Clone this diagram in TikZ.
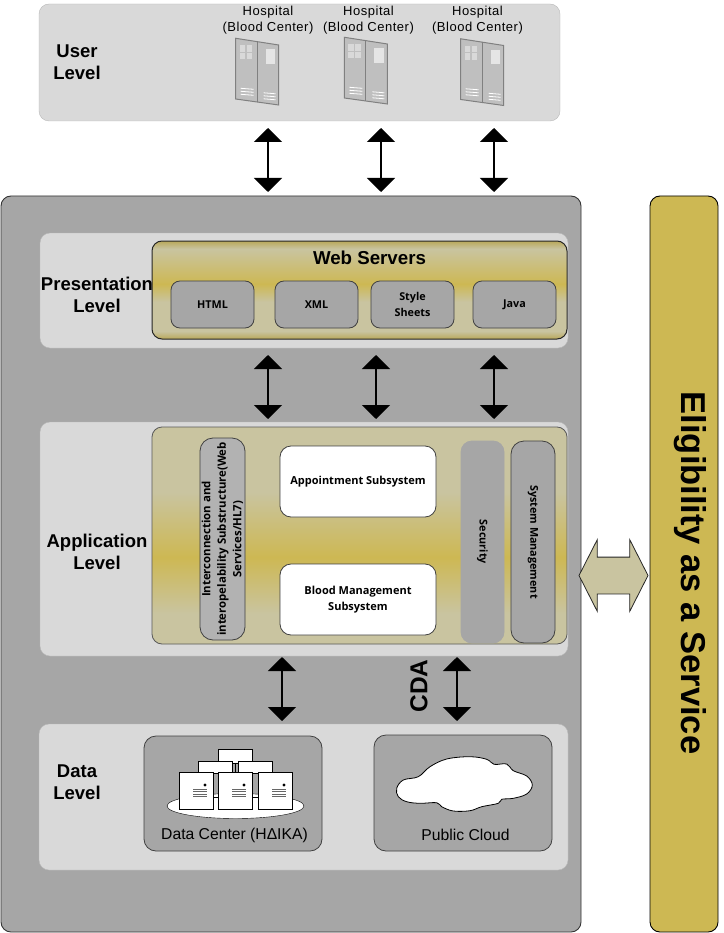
\documentclass[tikz,border=0pt]{standalone}
\usepackage{fontspec}
\setmainfont{Liberation Sans}
\newfontfamily\boxfont{Open Sans}
\usetikzlibrary{arrows.meta}
\usetikzlibrary{shapes.arrows}
\usetikzlibrary{shapes.geometric}
\definecolor{panelgrey}{HTML}{D9D9D9}
\definecolor{maingrey}{HTML}{A6A6A6}
\definecolor{gold}{HTML}{CDB853}
\definecolor{palegold}{HTML}{C9C4A0}
\definecolor{edgegold}{HTML}{B9A85A}
\pgfdeclareverticalshading{webgold}{100bp}{color(0bp)=(edgegold); color(25bp)=(edgegold); color(29bp)=(palegold); color(44bp)=(palegold); color(53bp)=(gold); color(71bp)=(palegold); color(75bp)=(edgegold); color(100bp)=(edgegold)}
\pgfdeclareverticalshading{appgold}{100bp}{color(0bp)=(palegold); color(32bp)=(palegold); color(45bp)=(gold); color(60bp)=(palegold); color(100bp)=(palegold)}
\tikzset{
    panel/.style={draw=panelgrey!85!black, fill=panelgrey, rounded corners=10pt, inner sep=0pt},
    subbox/.style={draw=black!75, line width=0.8pt, fill=maingrey, rounded corners=9pt, inner sep=0pt, align=center, font=\boxfont\fontsize{10.8}{15.5}\selectfont\bfseries},
    whitebox/.style={subbox, fill=white, rounded corners=11pt, font=\boxfont\fontsize{11}{16}\selectfont\bfseries},
    levellabel/.style={align=center, inner sep=0pt, font=\fontsize{18.5}{22.5}\selectfont\bfseries},
    hospitallabel/.style={align=center, inner sep=0pt, font=\addfontfeatures{LetterSpace=4}\fontsize{13}{16}\selectfont},
    dclabel/.style={inner sep=0pt, font=\fontsize{15.7}{18}\selectfont},
    dcbox/.style={draw=black, fill=white, inner sep=0pt, minimum width=34pt},
    bidir/.style={{Triangle[width=28pt,length=14pt]}-{Triangle[width=28pt,length=14pt]}, line width=1.8pt},
    hospitalrack/.pic={
        \draw[draw=black!50, line width=1pt, fill=black!25] (0,0) -- (43,6.7) -- (43,66.7) -- (0,60.7) -- cycle;
        \draw[draw=black!50, line width=1pt] (21.5,3.3) -- (21.5,63.7);
        \foreach \wx in {4,11} \foreach \wy in {7,14.5}
            \fill[white!85!black] (\wx,\wy) rectangle ++(5.5,6.5);
        \fill[white!90!black] (30,11) rectangle (39.5,25.5);
        \foreach \vy in {50,53,56}
            \draw[white, line width=0.8pt] (5,\vy) -- (18,\vy+1);
        \foreach \vy in {54.5,57.5,60.5}
            \draw[white, line width=0.8pt] (28,\vy) -- (40,\vy+1);
    },
    dcmarks/.pic={
        \fill (9,-5.5) circle (1.6pt);
        \foreach \vy in {-1,1.3,3.6,5.9}
            \draw[black!60, line width=0.9pt] (-3,\vy) -- (11,\vy);
    }
}
\begin{document}
\begin{tikzpicture}[x=1pt,y=-1pt]
    \useasboundingbox (0,0) rectangle (723,933);
    \node[panel, minimum width=521pt, minimum height=117pt] (UserPanel) at (299.5,62.5) {};
    \node[levellabel] (UserLabel) at (77,62) {User\\Level};
    \node[hospitallabel] (HospA) at (268,20) {Hospital\\(Blood Center)};
    \node[hospitallabel] (HospB) at (368.5,20) {Hospital\\(Blood Center)};
    \node[hospitallabel] (HospC) at (477.5,20) {Hospital\\(Blood Center)};
    \pic at (235.7,38.3) {hospitalrack};
    \pic at (344.4,37.3) {hospitalrack};
    \pic at (460.7,38.8) {hospitalrack};

    \node[draw=black!80, line width=0.9pt, fill=maingrey, rounded corners=10pt, inner sep=0pt, minimum width=580pt, minimum height=736pt] (MainPanel) at (291,564) {};
    \node[draw=black, line width=0.9pt, fill=gold, rounded corners=10pt, inner sep=0pt, minimum width=68pt, minimum height=736pt] (Eligibility) at (684,564) {};
    \node[rotate=-90, inner sep=0pt, font=\fontsize{34.5}{40}\selectfont\bfseries] (EligibilityLabel) at (690,573) {Eligibility as a Service};

    \node[panel, minimum width=528pt, minimum height=115pt] (PresPanel) at (304,290.5) {};
    \node[levellabel] (PresLabel) at (97,295) {Presentation\\Level};
    \node[draw=black!85, line width=1pt, shade, shading=webgold, rounded corners=10pt, inner sep=0pt, minimum width=415pt, minimum height=98pt] (WebServers) at (359.5,290) {};
    \node[inner sep=0pt, font=\fontsize{18.7}{21}\selectfont\bfseries] (WebLabel) at (369.5,258) {Web Servers};
    \node[subbox, minimum width=83pt, minimum height=47pt] (Html) at (212.5,304.5) {HTML};
    \node[subbox, minimum width=83pt, minimum height=47pt] (Xml) at (316.5,304.5) {XML};
    \node[subbox, minimum width=83pt, minimum height=47pt] (Style) at (412.5,304.5) {Style\\Sheets};
    \node[subbox, minimum width=83pt, minimum height=47pt] (Java) at (514.5,304.5) {Java};

    \node[panel, minimum width=528pt, minimum height=234pt] (AppPanel) at (304,539) {};
    \node[levellabel] (AppLabel) at (97,552) {Application\\Level};
    \node[draw=black!65, line width=0.8pt, shade, shading=appgold, rounded corners=10pt, inner sep=0pt, minimum width=415pt, minimum height=217pt] (AppBox) at (359.5,535.5) {};
    \node[subbox, fill=black!30, rotate=90, rounded corners=13pt, minimum width=202pt, minimum height=45pt, font=\boxfont\fontsize{11.4}{15.5}\selectfont\bfseries] (Interconn) at (222.5,539) {Interconnection and\\interopelability Substructure(Web\\Services/HL7)};
    \node[whitebox, minimum width=156pt, minimum height=71pt] (Appointment) at (358,481.5) {Appointment Subsystem};
    \node[whitebox, minimum width=156pt, minimum height=71pt] (BloodMgmt) at (358,599.5) {Blood Management\\Subsystem};
    \node[subbox, draw=black!35, rotate=-90, rounded corners=11pt, minimum width=202pt, minimum height=43pt] (Security) at (482.5,542) {Security};
    \node[subbox, rotate=-90, rounded corners=13pt, minimum width=202pt, minimum height=44pt] (SysMgmt) at (533,542) {System Management};

    \node[panel, minimum width=529pt, minimum height=146pt] (DataPanel) at (303.5,797) {};
    \node[levellabel] (DataLabel) at (77,782) {Data\\Level};
    \node[subbox, rounded corners=12pt, minimum width=178pt, minimum height=115pt] (DataCenter) at (233,793.5) {};
    \node[subbox, rounded corners=12pt, minimum width=178pt, minimum height=116pt] (PublicCloud) at (463,793) {};
    \node[dclabel] (DataCenterLabel) at (234.5,835) {Data Center (HΔIKA)};
    \node[dclabel] (PublicCloudLabel) at (465.5,835) {Public Cloud};

    \node[draw=black, fill=white, ellipse, inner sep=0pt, minimum width=137pt, minimum height=25pt] (Platter) at (235.5,806) {};
    \node[dcbox, minimum height=14pt] (DCTop) at (235,756) {};
    \node[dcbox, minimum height=12pt] (DCBackA) at (215,767) {};
    \node[dcbox, minimum height=12pt] (DCBackB) at (255,767) {};
    \node[dcbox, minimum height=37pt] (DCFrontA) at (196,790.5) {};
    \node[dcbox, minimum height=37pt] (DCFrontB) at (235,790.5) {};
    \node[dcbox, minimum height=37pt] (DCFrontC) at (275,790.5) {};
    \draw (DCTop) -- (DCFrontB);
    \draw ([yshift=-6.5pt]DCFrontA.east) -- ([yshift=-6.5pt]DCFrontB.west);
    \draw ([yshift=-6.5pt]DCFrontB.east) -- ([yshift=-6.5pt]DCFrontC.west);
    \pic at (DCFrontA) {dcmarks};
    \pic at (DCFrontB) {dcmarks};
    \pic at (DCFrontC) {dcmarks};

    \draw[black, line width=0.8pt, fill=white] plot[smooth cycle, tension=0.6] coordinates {(396.7,788.3) (403.3,780) (418.3,776.7) (430,766.7) (446.7,759) (470,756.7) (486.7,759.3) (494,764.3) (506.7,764) (513.3,770.7) (526.7,776) (532.3,785) (526.7,794) (513.3,798.3) (501.7,799.3) (498.3,803.3) (481.7,806.7) (470,810.7) (453.3,811) (441.7,806.7) (436.7,802.7) (420,803.3) (406.7,801.7) (398.3,796.7)};

    \coordinate (UA) at (268,128);
    \coordinate (UB) at (381,128);
    \coordinate (UC) at (494,128);
    \coordinate (PA) at (268,192);
    \coordinate (PB) at (381,192);
    \coordinate (PC) at (494,192);
    \draw[bidir] (UA) -- (PA);
    \draw[bidir] (UB) -- (PB);
    \draw[bidir] (UC) -- (PC);
    \coordinate (WA) at (268,355);
    \coordinate (WB) at (376,355);
    \coordinate (WC) at (494,355);
    \coordinate (AA) at (268,419);
    \coordinate (AB) at (376,419);
    \coordinate (AC) at (494,419);
    \draw[bidir] (WA) -- (AA);
    \draw[bidir] (WB) -- (AB);
    \draw[bidir] (WC) -- (AC);
    \coordinate (DA) at (282,657);
    \coordinate (DB) at (457,657);
    \coordinate (CA) at (282,721);
    \coordinate (CB) at (457,721);
    \draw[bidir] (DA) -- (CA);
    \draw[bidir] (DB) -- (CB);
    \node[rotate=90, inner sep=0pt, font=\fontsize{24.5}{28}\selectfont\bfseries] (Cda) at (419,686) {CDA};

    \node[double arrow, draw=black!85, line width=0.8pt, fill=palegold, inner xsep=0pt, inner ysep=18pt, minimum height=69pt, minimum width=71pt, double arrow head extend=17.5pt, double arrow tip angle=126] (ElastArrow) at (613.5,575.5) {};
\end{tikzpicture}
\end{document}
